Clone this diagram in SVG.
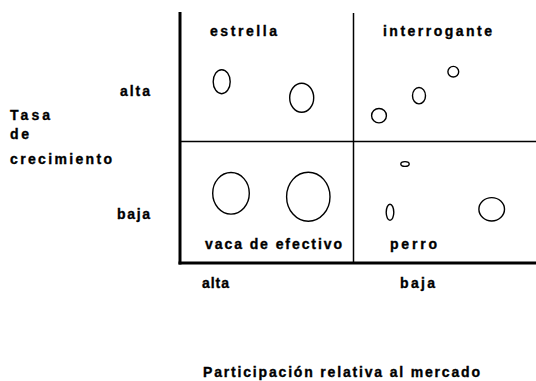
<svg xmlns="http://www.w3.org/2000/svg" width="536" height="381" viewBox="0 0 536 381">
<style>
text{font-family:"Liberation Sans",Arial,sans-serif;font-weight:bold;font-size:14px;fill:#000;stroke:#000;stroke-width:0.35}
.axis{stroke:#000;stroke-width:3;fill:none}
.div{stroke:#000;stroke-width:1.5;fill:none}
.b{fill:none;stroke:#000;stroke-width:1.4}
</style>
<rect width="536" height="381" fill="#fff"/>
<g id="axes">
<line class="axis" x1="180" y1="12" x2="180" y2="264.5"/>
<line class="axis" x1="178.5" y1="263" x2="536" y2="263"/>
<line class="div" x1="353.5" y1="13" x2="353.5" y2="263"/>
<line class="div" x1="181" y1="141.5" x2="536" y2="141.5"/>
</g>
<g id="estrella">
<text x="210" y="36" textLength="67" lengthAdjust="spacing">estrella</text>
<ellipse class="b" cx="221.7" cy="81.7" rx="8.5" ry="12"/>
<ellipse class="b" cx="301.7" cy="97.7" rx="12" ry="14.5"/>
</g>
<g id="interrogante">
<text x="383" y="36" textLength="109" lengthAdjust="spacing">interrogante</text>
<ellipse class="b" cx="453.3" cy="71.7" rx="5.4" ry="5.3"/>
<ellipse class="b" cx="419" cy="95.7" rx="6.5" ry="8.2"/>
<ellipse class="b" cx="379" cy="115.7" rx="7.4" ry="7.2"/>
</g>
<g id="vaca">
<text x="205" y="249" textLength="137" lengthAdjust="spacing">vaca de efectivo</text>
<ellipse class="b" cx="231" cy="193.3" rx="18.3" ry="20.8"/>
<ellipse class="b" cx="308.3" cy="196.7" rx="21.7" ry="24.5"/>
</g>
<g id="perro">
<text x="390" y="249" textLength="47" lengthAdjust="spacing">perro</text>
<ellipse class="b" cx="405" cy="164" rx="4.2" ry="2.4"/>
<ellipse class="b" cx="390" cy="212.3" rx="3.8" ry="8"/>
<ellipse class="b" cx="491.7" cy="209.3" rx="12.8" ry="11.7"/>
</g>
<g id="eje-y">
<text x="120" y="96" textLength="30" lengthAdjust="spacing">alta</text>
<text x="10" y="120" textLength="40" lengthAdjust="spacing">Tasa</text>
<text x="10" y="139" textLength="19" lengthAdjust="spacing">de</text>
<text x="10" y="164" textLength="102" lengthAdjust="spacing">crecimiento</text>
<text x="117" y="219" textLength="33" lengthAdjust="spacing">baja</text>
</g>
<g id="eje-x">
<text x="202" y="288" textLength="27" lengthAdjust="spacing">alta</text>
<text x="400" y="288" textLength="35" lengthAdjust="spacing">baja</text>
<text x="203" y="377" textLength="277" lengthAdjust="spacing">Participación relativa al mercado</text>
</g>
</svg>
